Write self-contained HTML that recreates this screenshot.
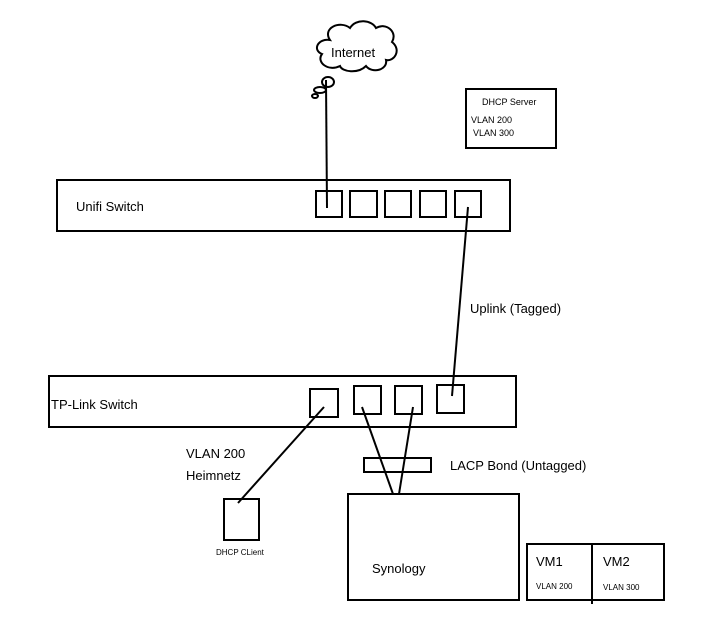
<!DOCTYPE html>
<html><head><style>body{margin:0;background:#fff}svg{display:block}text{font-family:"Liberation Sans",sans-serif;fill:#000}</style></head><body>
<svg width="726" height="635" viewBox="0 0 726 635" xmlns="http://www.w3.org/2000/svg" fill="none" stroke="#000" stroke-width="2">
<path d="M330,40 C322,28 340,20 350,28 C356,18 372,20 376,28 C386,22 398,32 392,42 C402,50 394,62 386,60 C388,70 372,74 366,66 C358,74 342,72 340,66 C328,72 316,62 322,54 C312,50 318,38 330,40 Z" fill="#fff"/>
<ellipse cx="328" cy="82" rx="6" ry="5"/>
<ellipse cx="320" cy="90" rx="6" ry="3"/>
<ellipse cx="315" cy="96" rx="3" ry="2"/>
<text x="331" y="57" font-size="13" stroke="none">Internet</text>
<rect x="466" y="89" width="90" height="59"/>
<text x="482" y="105" font-size="9" stroke="none">DHCP Server</text>
<text x="471" y="123" font-size="9" stroke="none">VLAN 200</text>
<text x="473" y="136" font-size="9" stroke="none">VLAN 300</text>
<rect x="57" y="180" width="453" height="51"/>
<text x="76" y="211" font-size="13" stroke="none">Unifi Switch</text>
<rect x="316" y="191" width="26" height="26"/>
<rect x="350" y="191" width="27" height="26"/>
<rect x="385" y="191" width="26" height="26"/>
<rect x="420" y="191" width="26" height="26"/>
<rect x="455" y="191" width="26" height="26"/>
<line x1="326" y1="80" x2="327" y2="208"/>
<line x1="468" y1="207" x2="452" y2="396"/>
<text x="470" y="313" font-size="13" stroke="none">Uplink (Tagged)</text>
<rect x="49" y="376" width="467" height="51"/>
<text x="51" y="409" font-size="13" stroke="none">TP-Link Switch</text>
<rect x="310" y="389" width="28" height="28"/>
<rect x="354" y="386" width="27" height="28"/>
<rect x="395" y="386" width="27" height="28"/>
<rect x="437" y="385" width="27" height="28"/>
<line x1="324" y1="407" x2="238" y2="503"/>
<line x1="362" y1="407" x2="393" y2="494"/>
<line x1="413" y1="407" x2="399" y2="494"/>
<text x="186" y="458" font-size="13" stroke="none">VLAN 200</text>
<text x="186" y="480" font-size="13" stroke="none">Heimnetz</text>
<rect x="364" y="458" width="67" height="14"/>
<text x="450" y="470" font-size="13" stroke="none">LACP Bond (Untagged)</text>
<rect x="224" y="499" width="35" height="41"/>
<text x="216" y="555" font-size="8" stroke="none">DHCP CLient</text>
<rect x="348" y="494" width="171" height="106"/>
<text x="372" y="573" font-size="13" stroke="none">Synology</text>
<rect x="527" y="544" width="137" height="56"/>
<line x1="592" y1="544" x2="592" y2="604"/>
<text x="536" y="566" font-size="13" stroke="none">VM1</text>
<text x="536" y="589" font-size="8" stroke="none">VLAN 200</text>
<text x="603" y="566" font-size="13" stroke="none">VM2</text>
<text x="603" y="590" font-size="8" stroke="none">VLAN 300</text>
</svg>
</body></html>
